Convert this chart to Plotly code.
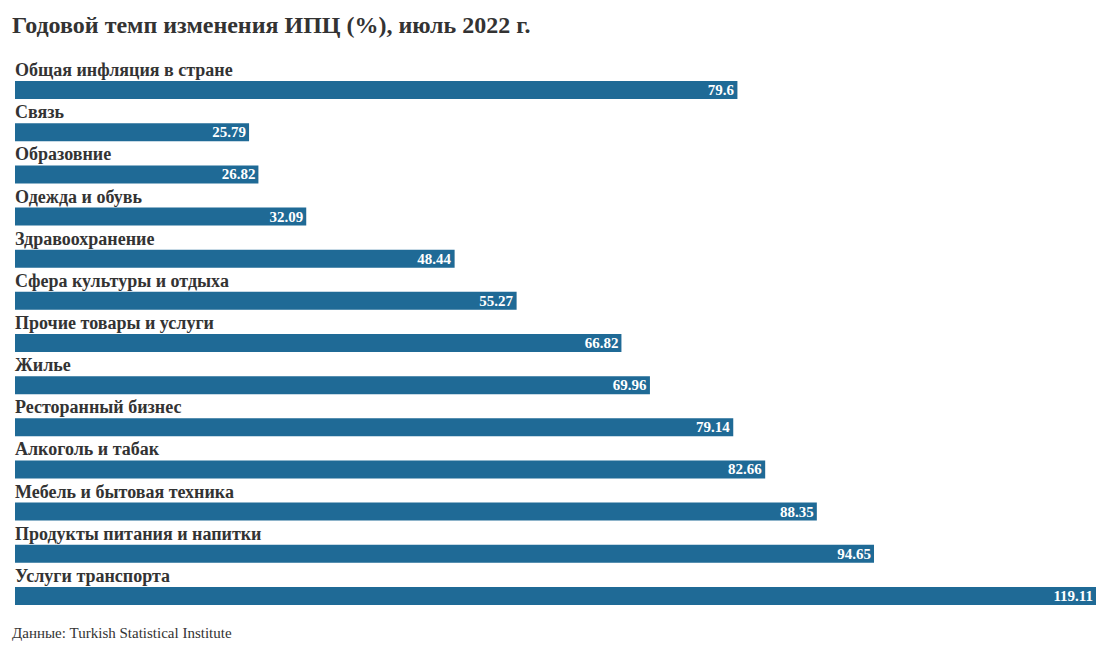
import plotly.graph_objects as go

categories = [
    "Общая инфляция в стране",
    "Связь",
    "Образовние",
    "Одежда и обувь",
    "Здравоохранение",
    "Сфера культуры и отдыха",
    "Прочие товары и услуги",
    "Жилье",
    "Ресторанный бизнес",
    "Алкоголь и табак",
    "Мебель и бытовая техника",
    "Продукты питания и напитки",
    "Услуги транспорта",
]
values = [79.6, 25.79, 26.82, 32.09, 48.44, 55.27, 66.82, 69.96, 79.14, 82.66, 88.35, 94.65, 119.11]
value_labels = ["79.6", "25.79", "26.82", "32.09", "48.44", "55.27", "66.82", "69.96",
                "79.14", "82.66", "88.35", "94.65", "119.11"]

FONT = "Liberation Serif, Times New Roman, serif"
BAR = "#1f6a96"
TXT = "#333333"

W, H = 1112, 645
L, R, T, B = 7, 24, 61, 36
PH = H - T - B
PW = W - L - R

fig = go.Figure(go.Bar(
    x=values, y=categories, orientation="h",
    marker=dict(color=BAR, line=dict(width=0)),
    text=value_labels, textposition="inside", insidetextanchor="end",
    textfont=dict(family=FONT, size=15, color="white", weight="bold"),
    constraintext="none", cliponaxis=False, hoverinfo="skip",
))

for c in categories:
    fig.add_annotation(x=0, y=c, xref="x", yref="y", text="<b>" + c + "</b>",
                       showarrow=False, xanchor="left", yanchor="bottom",
                       yshift=8, xshift=-2,
                       font=dict(family=FONT, size=18, color=TXT))

n = len(categories)
fig.update_layout(
    width=W, height=H,
    margin=dict(l=L, r=R, t=T, b=B, autoexpand=False),
    paper_bgcolor="white", plot_bgcolor="white",
    bargap=0.573,
    showlegend=False,
    title=dict(text="<b>Годовой темп изменения ИПЦ (%), июль 2022 г.</b>",
               x=4 / W, xanchor="left", y=1 - 17 / H, yanchor="middle",
               font=dict(family=FONT, size=24, color=TXT)),
    xaxis=dict(range=[0, 119.11], visible=False, fixedrange=True),
    yaxis=dict(categoryorder="array", categoryarray=categories,
               range=[n - 0.5, -0.5], autorange=False,
               visible=False, fixedrange=True),
)

fig.add_annotation(x=-3 / PW, y=-16 / PH, xref="paper", yref="paper",
                   text="Данные: Turkish Statistical Institute", showarrow=False,
                   xanchor="left", yanchor="middle", xshift=-2,
                   font=dict(family=FONT, size=15, color=TXT))

fig.write_html("out.html")
